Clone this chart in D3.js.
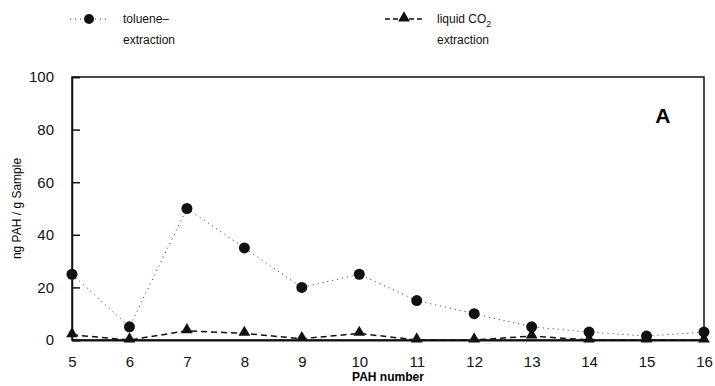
<!DOCTYPE html>
<html>
<head>
<meta charset="utf-8">
<script src="https://cdn.jsdelivr.net/npm/d3@7"></script>
<style>
  html, body { margin: 0; padding: 0; background: #fff; overflow: hidden; }
  svg { display: block; font-family: 'Liberation Sans', Arial, sans-serif; }
  .axis text { font-size: 15px; fill: #111; }
  .axis path, .axis line { stroke: #111; }
</style>
</head>
<body>
<div class="chart"></div>
<script>
// PAH numbers on the x axis
const pahNumbers = [5, 6, 7, 8, 9, 10, 11, 12, 13, 14, 15, 16]
// ng PAH / g sample
const tolueneValues = [25, 5, 50, 35, 20, 25, 15, 10, 5, 3, 1.5, 3]
const co2Values = [2, 0, 3.5, 2.5, 0.5, 2.5, 0, 0, 1.5, 0, 0, 0]
const yTicks = [0, 20, 40, 60, 80, 100]

const width = 715
const height = 386
const margins = { top: 77, right: 11, bottom: 46, left: 72 }
const innerWidth = width - margins.left - margins.right
const innerHeight = height - margins.top - margins.bottom

const svg = d3.select('.chart')
  .append('svg')
  .attr('width', width)
  .attr('height', height)

const g = svg.append('g')
  .attr('transform', `translate(${margins.left}, ${margins.top})`)

const x = d3.scaleLinear().domain([5, 16]).range([0, innerWidth])
const y = d3.scaleLinear().domain([0, 100]).range([innerHeight, 0])

// frame
g.append('rect')
  .attr('width', innerWidth)
  .attr('height', innerHeight)
  .attr('fill', 'none')
  .attr('stroke', '#111')
  .attr('stroke-width', 1.5)

g.append('g')
  .attr('class', 'axis')
  .attr('transform', `translate(0, ${innerHeight})`)
  .call(d3.axisBottom(x).tickValues(pahNumbers).tickSize(0).tickPadding(16).tickFormat(d3.format('d')))
  .call(s => s.select('.domain').attr('stroke-width', 2))

g.append('g')
  .attr('class', 'axis')
  .call(d3.axisLeft(y).tickValues(yTicks).tickSize(-8).tickPadding(18))
  .call(s => s.select('.domain').attr('stroke-width', 1.5))
  .call(s => s.selectAll('.tick line').attr('stroke-width', 1.5))

// axis titles
svg.append('text')
  .attr('x', margins.left + innerWidth / 2)
  .attr('y', 381)
  .attr('text-anchor', 'middle')
  .attr('font-size', 12)
  .attr('font-weight', 'bold')
  .text('PAH number')

svg.append('text')
  .attr('transform', `translate(21, ${margins.top + innerHeight / 2}) rotate(-90)`)
  .attr('text-anchor', 'middle')
  .attr('font-size', 12)
  .text('ng PAH / g Sample')

g.append('text')
  .attr('x', x(15.15))
  .attr('y', y(82.5))
  .attr('font-size', 21)
  .attr('font-weight', 'bold')
  .text('A')

const line = d3.line()
  .x((d, i) => x(pahNumbers[i]))
  .y(d => y(d))

const triangle = d3.symbol().type(d3.symbolTriangle).size(60)

// liquid CO2
g.append('path')
  .datum(co2Values)
  .attr('d', line)
  .attr('fill', 'none')
  .attr('stroke', '#111')
  .attr('stroke-width', 1.5)
  .attr('stroke-dasharray', '6,4')

g.append('g')
  .selectAll('path')
  .data(co2Values)
  .join('path')
  .attr('d', triangle)
  .attr('transform', (d, i) => `translate(${x(pahNumbers[i])}, ${y(d) - 1})`)
  .attr('fill', '#111')

// toluene
g.append('path')
  .datum(tolueneValues)
  .attr('d', line)
  .attr('fill', 'none')
  .attr('stroke', '#333')
  .attr('stroke-width', 1)
  .attr('stroke-dasharray', '1,4')

g.append('g')
  .selectAll('circle')
  .data(tolueneValues)
  .join('circle')
  .attr('cx', (d, i) => x(pahNumbers[i]))
  .attr('cy', d => y(d))
  .attr('r', 5.5)
  .attr('fill', '#111')

// legend
const legend = svg.append('g').attr('font-size', 12).attr('fill', '#111')

legend.append('line')
  .attr('x1', 70).attr('x2', 108).attr('y1', 19).attr('y2', 19)
  .attr('stroke', '#333').attr('stroke-dasharray', '1,4')
legend.append('circle').attr('cx', 89).attr('cy', 19).attr('r', 5).attr('fill', '#111')
legend.append('text').attr('x', 123).attr('y', 23).text('toluene–')
legend.append('text').attr('x', 123).attr('y', 44).text('extraction')

legend.append('line')
  .attr('x1', 385).attr('x2', 423).attr('y1', 19).attr('y2', 19)
  .attr('stroke', '#111').attr('stroke-width', 1.5).attr('stroke-dasharray', '5,3')
legend.append('path').attr('d', triangle).attr('transform', 'translate(404, 18)').attr('fill', '#111')
const co2Label = legend.append('text').attr('x', 437).attr('y', 23)
co2Label.append('tspan').text('liquid  CO')
co2Label.append('tspan').attr('font-size', 9).attr('dy', 4).text('2')
legend.append('text').attr('x', 437).attr('y', 44).text('extraction')
</script>
</body>
</html>
